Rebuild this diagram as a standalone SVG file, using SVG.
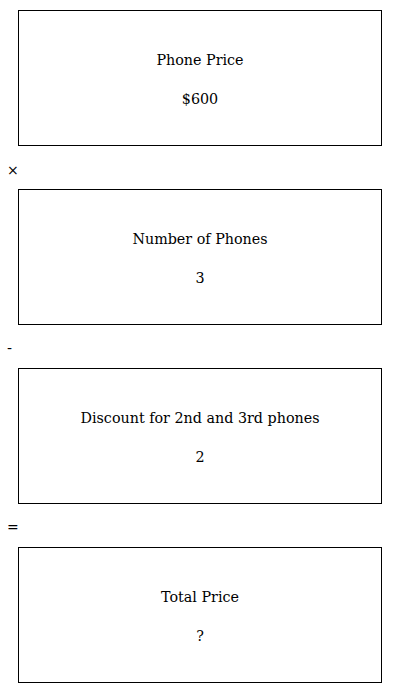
<svg xmlns="http://www.w3.org/2000/svg" width="400" height="693" viewBox="0 0 400 693">
<style>
.box{fill:#fff;stroke:#000;stroke-width:1}
.t{font-family:"DejaVu Serif","Liberation Serif",serif;font-size:14.3px;text-anchor:middle;fill:#000}
.op{font-family:"DejaVu Sans","Liberation Sans",sans-serif;font-size:14px;fill:#000}
</style>
<rect width="400" height="693" fill="#fff"/>
<g id="node-phone-price">
<rect class="box" x="18.5" y="10.5" width="363" height="135"/>
<text class="t" x="200" y="65">Phone Price</text>
<text class="t" x="200" y="104">$600</text>
</g>
<g id="op-times"><text class="op" x="7" y="175">×</text></g>
<g id="node-number">
<rect class="box" x="18.5" y="189.5" width="363" height="135"/>
<text class="t" x="200" y="244">Number of Phones</text>
<text class="t" x="200" y="283">3</text>
</g>
<g id="op-minus"><text class="op" x="7" y="353">-</text></g>
<g id="node-discount">
<rect class="box" x="18.5" y="368.5" width="363" height="135"/>
<text class="t" x="200" y="423">Discount for 2nd and 3rd phones</text>
<text class="t" x="200" y="462">2</text>
</g>
<g id="op-equals"><text class="op" x="7" y="532">=</text></g>
<g id="node-total">
<rect class="box" x="18.5" y="547.5" width="363" height="135"/>
<text class="t" x="200" y="602">Total Price</text>
<text class="t" x="200" y="641">?</text>
</g>
<g id="connectors"></g>
</svg>
